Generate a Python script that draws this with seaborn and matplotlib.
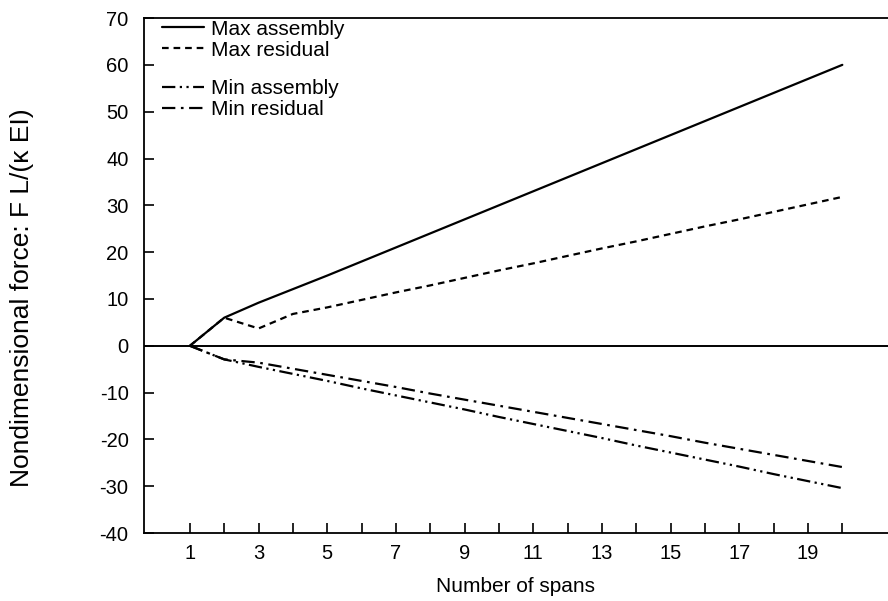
import pandas as pd
import matplotlib.pyplot as plt
import seaborn as sns
from matplotlib.lines import Line2D

# data
spans = list(range(1, 21))
max_assembly = [0, 6, 9.2, 12.1, 15, 18, 21, 24, 27, 30, 33, 36, 39, 42, 45, 48, 51, 54, 57, 60]
max_residual = [0, 6, 3.7, 6.8, 8.2, 9.8, 11.4, 12.9, 14.5, 16.1, 17.6, 19.2, 20.8, 22.3,
                23.9, 25.5, 27.0, 28.6, 30.2, 31.8]
min_assembly = [0, -2.9, -4.5, -6.0, -7.5, -9.1, -10.6, -12.1, -13.6, -15.2, -16.7, -18.2,
                -19.7, -21.3, -22.8, -24.3, -25.8, -27.4, -28.9, -30.4]
min_residual = [0, -2.9, -3.6, -4.9, -6.2, -7.5, -8.8, -10.2, -11.5, -12.8, -14.1, -15.4,
                -16.7, -18.0, -19.3, -20.7, -22.0, -23.3, -24.6, -25.9]
series_names = ['Max assembly', 'Max residual', 'Min assembly', 'Min residual']

#long format table for seaborn
df = pd.DataFrame({
    'spans': spans * 4,
    'force': max_assembly + max_residual + min_assembly + min_residual,
    'series': [n for n in series_names for _ in spans],
})

sns.set_style('ticks')
plt.rcParams['font.family'] = ['Liberation Sans', 'DejaVu Sans']
plt.rcParams['axes.unicode_minus'] = False
plt.rcParams['text.color'] = 'black'
plt.rcParams['axes.labelcolor'] = 'black'

dash_map = {
    'Max assembly': '',
    'Max residual': (3, 2.2),
    'Min assembly': (6, 2, 1, 2, 1, 2),
    'Min residual': (6, 2.5, 1.2, 2.5),
}

fig = plt.figure(figsize=(8.88, 6.01), dpi=100)
ax = fig.add_axes([0.162, 0.113, 0.838, 0.857])

sns.lineplot(data=df, x='spans', y='force', style='series', dashes=dash_map,
             color='black', linewidth=1.6, legend=False, ax=ax)

ax.axhline(0, color='black', linewidth=1.4, zorder=1)

ax.set_xlim(-0.34, 21.33)
ax.set_ylim(-40, 70)
ax.set_xticks(range(1, 21))
ax.set_xticklabels([str(i) if i % 2 == 1 else '' for i in range(1, 21)])
ax.set_yticks(range(-40, 71, 10))
ax.tick_params(direction='in', length=7, width=1.2, labelsize=14.5, colors='black')
ax.tick_params(axis='x', pad=8)
ax.tick_params(axis='y', pad=11)
for side in ['left', 'bottom', 'top']:
    ax.spines[side].set_linewidth(1.3)
    ax.spines[side].set_color('black')
ax.spines['right'].set_visible(False)

ax.set_xlabel('Number of spans', fontsize=15, labelpad=10)
ax.set_ylabel('Nondimensional force: F L/(\u03ba EI)', fontsize=19)
ax.yaxis.set_label_coords(-0.148, 0.458)

def handle(name):
    d = dash_map[name]
    if d == '':
        return Line2D([], [], color='black', linewidth=1.6)
    return Line2D([], [], color='black', linewidth=1.6, linestyle=(0, d))

leg_kw = dict(loc='upper left', frameon=False, fontsize=15, handlelength=2.0,
              handletextpad=0.35, labelspacing=0.1, borderaxespad=0)
leg1 = ax.legend([handle(n) for n in series_names[:2]], series_names[:2],
                 bbox_to_anchor=(0.0134, 1.013), **leg_kw)
ax.add_artist(leg1)
ax.legend([handle(n) for n in series_names[2:]], series_names[2:],
          bbox_to_anchor=(0.0134, 0.897), **leg_kw)

fig.savefig('out.png', dpi=100)
